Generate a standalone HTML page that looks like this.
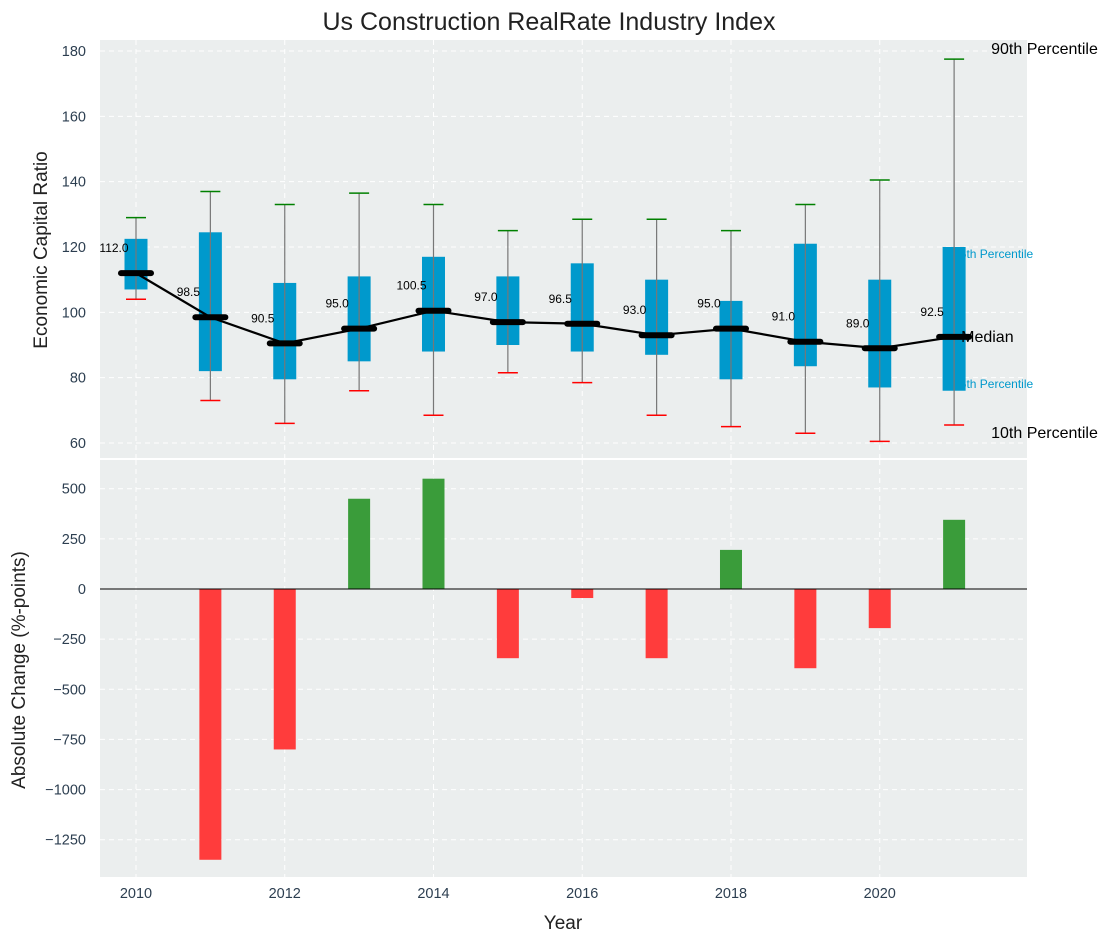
<!DOCTYPE html>
<html><head><meta charset="utf-8"><style>
body{margin:0;background:#fff;font-family:"Liberation Sans","DejaVu Sans",sans-serif}
</style></head><body>
<svg id="c" width="1098" height="942" xmlns="http://www.w3.org/2000/svg" font-family="Liberation Sans, DejaVu Sans, sans-serif"></svg>
<script>
const years=[2010,2011,2012,2013,2014,2015,2016,2017,2018,2019,2020,2021];
const p10=[104,73,66,76,68.5,81.5,78.5,68.5,65,63,60.5,65.5];
const p25=[107,82,79.5,85,88,90,88,87,79.5,83.5,77,76];
const medians=[112,98.5,90.5,95,100.5,97,96.5,93,95,91,89,92.5];
const p75=[122.5,124.5,109,111,117,111,115,110,103.5,121,110,120];
const p90=[129,137,133,136.5,133,125,128.5,128.5,125,133,140.5,177.5];
const changes=[0,-1350,-800,450,550,-345,-45,-345,195,-395,-195,345];
const topTicks=[60,80,100,120,140,160,180];
const botTicks=[-1250,-1000,-750,-500,-250,0,250,500];
const xTicks=[2010,2012,2014,2016,2018,2020];

const svg=document.getElementById('c');
const NS='http://www.w3.org/2000/svg';
function mk(tag,attrs,parent,text){const e=document.createElementNS(NS,tag);for(const k in attrs)e.setAttribute(k,attrs[k]);if(text!==undefined)e.textContent=text;(parent||svg).appendChild(e);return e;}
const L=100,R=1027;
const x=v=>L+(v-2009.516)*(R-L)/(2021.98-2009.516);
const yT=v=>443-(v-60)*392/120;
const yB=v=>589-v*351/1750;

let e;
e=mk('text',{x:549,y:30,'font-size':25,'text-anchor':'middle',fill:'#222'},svg,'Us Construction RealRate Industry Index');


e=mk('rect',{x:L,y:40,width:R-L,height:418,fill:'#ebeeee'});

e=mk('rect',{x:L,y:460,width:R-L,height:417,fill:'#ebeeee'});


const g=mk('g',{stroke:'#fff','stroke-dasharray':'5,4','stroke-width':1});
xTicks.forEach(t=>{mk('line',{x1:x(t),x2:x(t),y1:40,y2:458},g);mk('line',{x1:x(t),x2:x(t),y1:460,y2:877},g);});
topTicks.forEach(t=>mk('line',{x1:L,x2:R,y1:yT(t),y2:yT(t)},g));
botTicks.forEach(t=>mk('line',{x1:L,x2:R,y1:yB(t),y2:yB(t)},g));

topTicks.forEach(t=>{e=mk('text',{x:86,y:yT(t)+5,'font-size':14.5,'text-anchor':'end',fill:'#2c3e50'},svg,t);
});
botTicks.forEach(t=>{e=mk('text',{x:86,y:yB(t)+5,'font-size':14.5,'text-anchor':'end',fill:'#2c3e50'},svg,t<0?'\u2212'+(-t):t);
});
xTicks.forEach(t=>{e=mk('text',{x:x(t),y:898,'font-size':14.5,'text-anchor':'middle',fill:'#2c3e50'},svg,t);
});

e=mk('text',{x:563,y:929,'font-size':19,'text-anchor':'middle',fill:'#222'},svg,'Year');

e=mk('text',{x:0,y:0,'font-size':19,'text-anchor':'middle',fill:'#222',transform:'translate(47,250) rotate(-90)'},svg,'Economic Capital Ratio');

e=mk('text',{x:0,y:0,'font-size':19,'text-anchor':'middle',fill:'#222',transform:'translate(25,670) rotate(-90)'},svg,'Absolute Change (%-points)');


const lx=x(2021)+9;
e=mk('text',{x:lx+28,y:54,'font-size':16,fill:'#000'},svg,'90th Percentile');
e=mk('text',{x:lx-10,y:258,'font-size':12,fill:'#0099cc'},svg,'75th Percentile');
e=mk('text',{x:lx-10,y:388,'font-size':12,fill:'#0099cc'},svg,'25th Percentile');
e=mk('text',{x:lx+28,y:438,'font-size':16,fill:'#000'},svg,'10th Percentile');

years.forEach((yr,i)=>{
  const cx=x(yr);
  e=mk('rect',{x:cx-11.5,y:yT(p75[i]),width:23,height:yT(p25[i])-yT(p75[i]),fill:'#0099cc'});
  
  e=mk('line',{x1:cx,x2:cx,y1:yT(p90[i]),y2:yT(p10[i]),stroke:'#777','stroke-width':1.2});
  
  e=mk('line',{x1:cx-10,x2:cx+10,y1:yT(p90[i]),y2:yT(p90[i]),stroke:'green','stroke-width':1.5});
  
  e=mk('line',{x1:cx-10,x2:cx+10,y1:yT(p10[i]),y2:yT(p10[i]),stroke:'red','stroke-width':1.5});
  
});
e=mk('polyline',{points:years.map((yr,i)=>x(yr)+','+yT(medians[i])).join(' '),fill:'none',stroke:'#000','stroke-width':2.2});

years.forEach((yr,i)=>{
  const cx=x(yr);
  e=mk('line',{x1:cx-15,x2:cx+15,y1:yT(medians[i]),y2:yT(medians[i]),stroke:'#000','stroke-width':6,'stroke-linecap':'round'});
  
  e=mk('text',{x:cx-22,y:yT(medians[i])-21,'font-size':12,'text-anchor':'middle',fill:'#000'},svg,medians[i].toFixed(1));
  
});
e=mk('text',{x:lx-2,y:342,'font-size':16,fill:'#000'},svg,'Median');

years.forEach((yr,i)=>{
  const v=changes[i];if(v===0)return;
  e=mk('rect',{x:x(yr)-11,y:Math.min(yB(v),yB(0)),width:22,height:Math.abs(yB(v)-yB(0)),fill:v>0?'#3a9c3a':'#ff3c3c'});
  
});
e=mk('line',{x1:L,x2:R,y1:yB(0),y2:yB(0),stroke:'#000','stroke-width':1});

</script>
</body></html>
